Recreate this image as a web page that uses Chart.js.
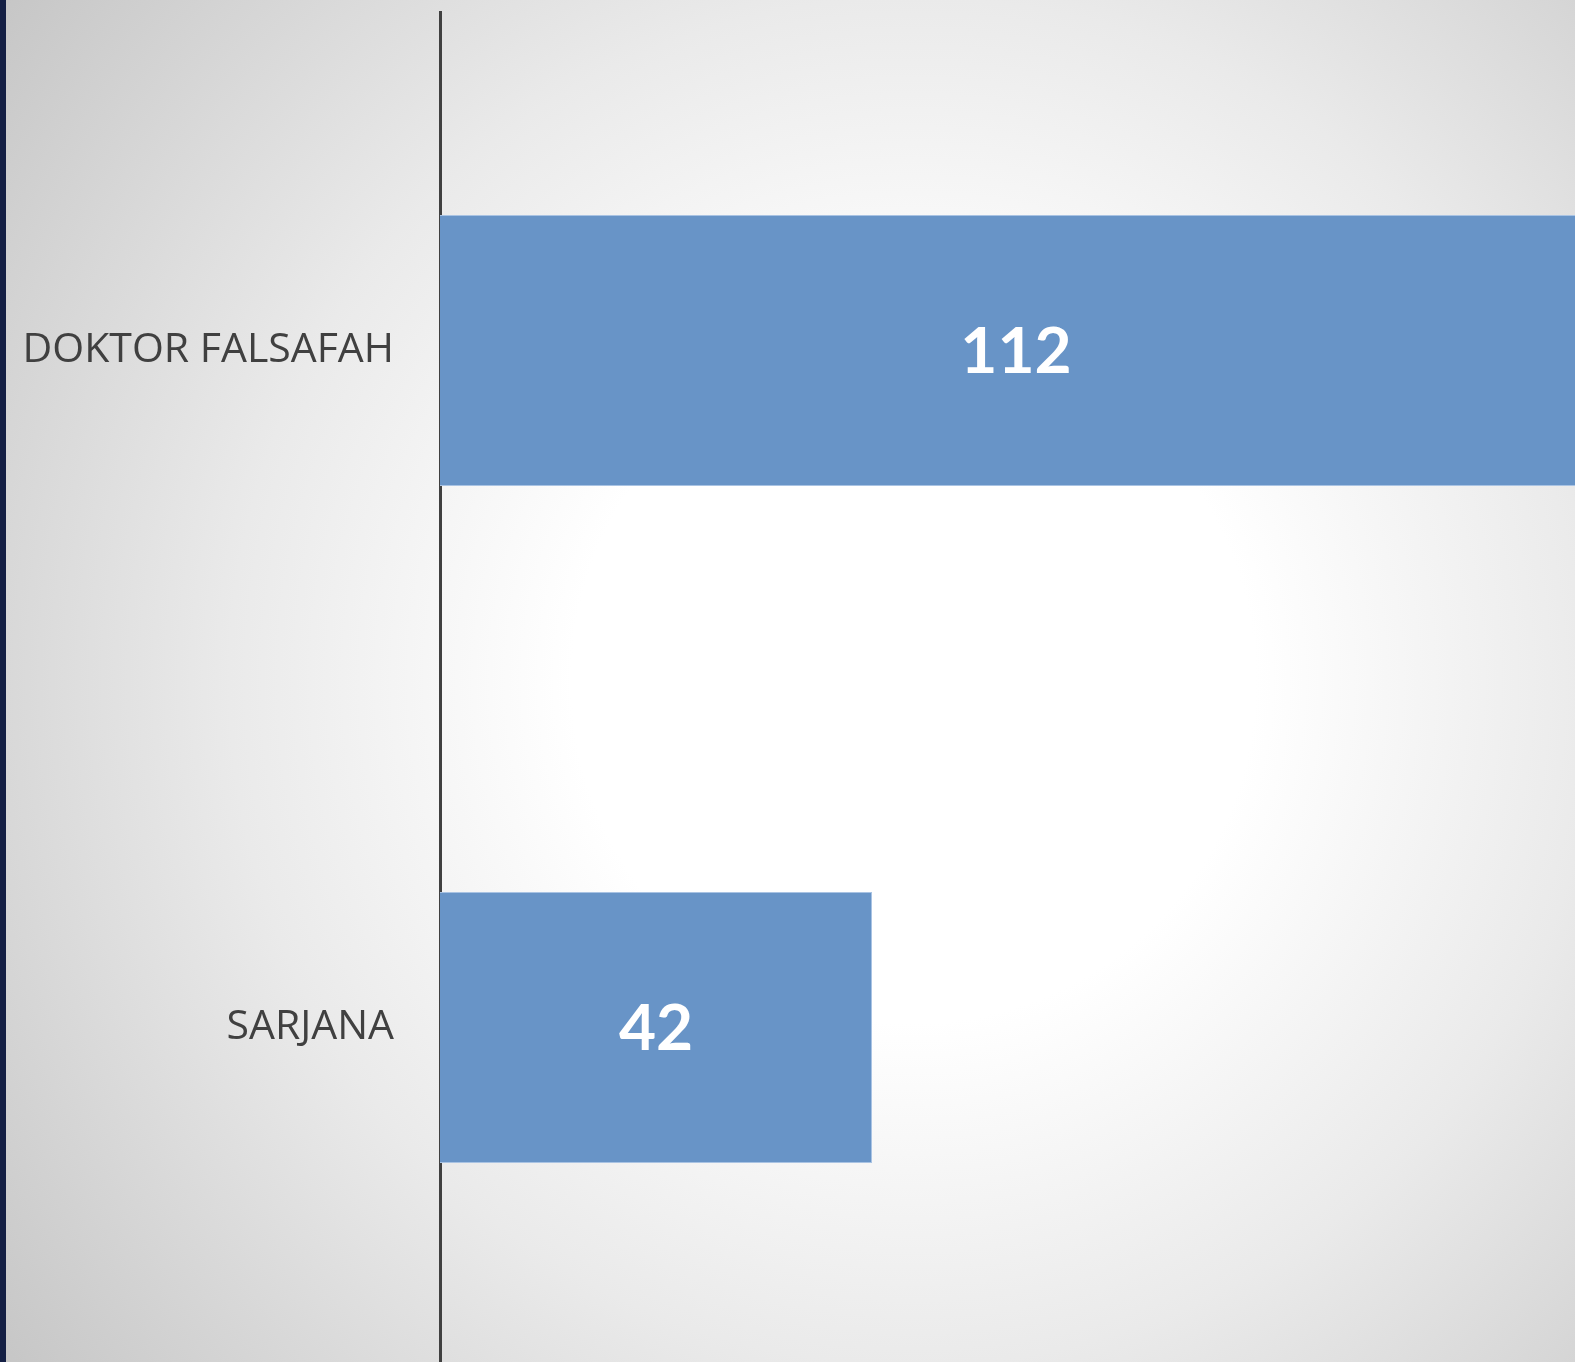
<!DOCTYPE html>
<html>
<head>
<meta charset="utf-8">
<script src="https://cdn.jsdelivr.net/npm/chart.js@4/dist/chart.umd.min.js"></script>
<style>
  html, body { margin: 0; padding: 0; width: 1575px; height: 1362px; overflow: hidden; }
  body {
    position: relative;
    background: radial-gradient(circle farthest-corner at 58% 50%, #ffffff 0%, #ffffff 30%, #eaeaea 60%, #c6c6c6 100%);
  }
  #strip { position: absolute; left: 0; top: 0; width: 6px; height: 1362px; background: #141f44; z-index: 2; }
  #wrap { position: absolute; left: 0; top: 0; width: 1592px; height: 1366px; }
</style>
</head>
<body>
<div id="strip"></div>
<div id="wrap"><canvas id="c"></canvas></div>
<script>
const categories = ["DOKTOR FALSAFAH", "SARJANA"];
const values = [112, 42];
const xMax = 112;

const barLabels = {
  id: 'barLabels',
  afterDatasetsDraw(chart) {
    const ctx = chart.ctx;
    const meta = chart.getDatasetMeta(0);
    ctx.save();
    ctx.fillStyle = '#ffffff';
    ctx.font = 'bold 64px Lato';
    ctx.textAlign = 'center';
    ctx.textBaseline = 'middle';
    meta.data.forEach((bar, i) => {
      const p = bar.getProps(['x', 'y', 'base'], true);
      ctx.fillText(String(values[i]), (p.x + p.base) / 2, p.y + 2);
    });
    ctx.restore();
  }
};

new Chart(document.getElementById('c'), {
  type: 'bar',
  data: {
    labels: categories,
    datasets: [{
      data: values,
      backgroundColor: '#6894c7',
      borderColor: '#a9c3e3',
      borderWidth: 1,
      borderSkipped: 'start',
      categoryPercentage: 0.8,
      barPercentage: 0.5
    }]
  },
  options: {
    indexAxis: 'y',
    responsive: true,
    maintainAspectRatio: false,
    animation: false,
    layout: { padding: { top: 12, left: 0, right: 0, bottom: 0 } },
    plugins: { legend: { display: false }, tooltip: { enabled: false } },
    scales: {
      x: { display: false, min: 0, max: xMax },
      y: {
        z: 1,
        afterFit(scale) {
          scale.width = 440;
          scale.paddingTop = 0;
          scale.paddingBottom = 0;
        },
        grid: { display: false, drawTicks: true, tickLength: 46 },
        border: { display: true, color: '#404040', width: 3 },
        ticks: { color: '#404040', font: { family: 'Open Sans', size: 41 }, padding: 0 }
      }
    }
  },
  plugins: [barLabels]
});
</script>
</body>
</html>
